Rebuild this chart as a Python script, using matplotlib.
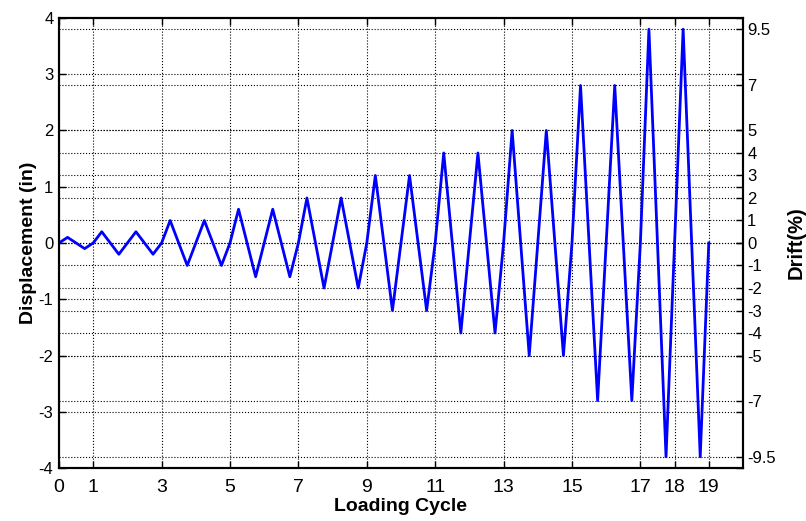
import numpy as np
import matplotlib.pyplot as plt

# peak displacement (in) of each loading cycle
cycle_start = [0, 1, 2, 3, 4, 5, 6, 7, 8, 9, 10, 11, 12, 13, 14, 15, 16, 17, 18]
peak_disp = [0.1, 0.2, 0.2, 0.4, 0.4, 0.6, 0.6, 0.8, 0.8, 1.2, 1.2,
             1.6, 1.6, 2.0, 2.0, 2.8, 2.8, 3.8, 3.8]
end_cycle = 19

x_ticks = [0, 1, 3, 5, 7, 9, 11, 13, 15, 17, 18, 19]
disp_ticks = [-4, -3, -2, -1, 0, 1, 2, 3, 4]
drift_ticks = [-9.5, -7, -5, -4, -3, -2, -1, 0, 1, 2, 3, 4, 5, 7, 9.5]
drift_labels = ['-9.5', '-7', '-5', '-4', '-3', '-2', '-1', '0',
                '1', '2', '3', '4', '5', '7', '9.5']

# triangle wave: zero at start, + peak at 1/4, - peak at 3/4
xs, ys = [], []
for c, a in zip(cycle_start, peak_disp):
    xs += [c, c + 0.25, c + 0.75]
    ys += [0, a, -a]
xs.append(end_cycle)
ys.append(0)

plt.rcParams['font.family'] = ['Liberation Sans', 'DejaVu Sans']
plt.rcParams['axes.unicode_minus'] = False

fig = plt.figure(figsize=(8.06, 5.21), dpi=100)
ax = fig.add_axes([0.0732, 0.1017, 0.8486, 0.8638])
ax2 = ax.twinx()
ax.set_zorder(ax2.get_zorder() + 1)
ax.patch.set_visible(False)

ax.plot(xs, ys, color='#0000ff', lw=2)

ax.set_xlim(0, 20)
ax.set_ylim(-4, 4)
ax.set_xticks(x_ticks)
ax.set_xticklabels([str(t) for t in x_ticks], fontsize=14)
ax.set_yticks(disp_ticks)
ax.tick_params(axis='y', labelsize=12, pad=4)
ax.tick_params(axis='x', pad=8)
ax.tick_params(direction='in', top=True, right=True, length=5, width=1)
ax.grid(True, ls=':', color='k', lw=0.8)

ax2.set_ylim(-10, 10)
ax2.set_yticks(drift_ticks)
ax2.set_yticklabels(drift_labels, fontsize=12)
ax2.tick_params(direction='in', length=5, width=1, pad=3)
ax2.grid(True, axis='y', ls=':', color='k', lw=0.8)

for a in (ax, ax2):
    for s in a.spines.values():
        s.set_linewidth(1.5)

ax.set_xlabel('Loading Cycle', fontweight='bold', fontsize=14, labelpad=1)
ax.set_ylabel('Displacement (in)', fontweight='bold', fontsize=14, labelpad=1)
ax2.set_ylabel('Drift(%)', fontweight='bold', fontsize=14.5, labelpad=8)

fig.savefig('out.png', dpi=100)
